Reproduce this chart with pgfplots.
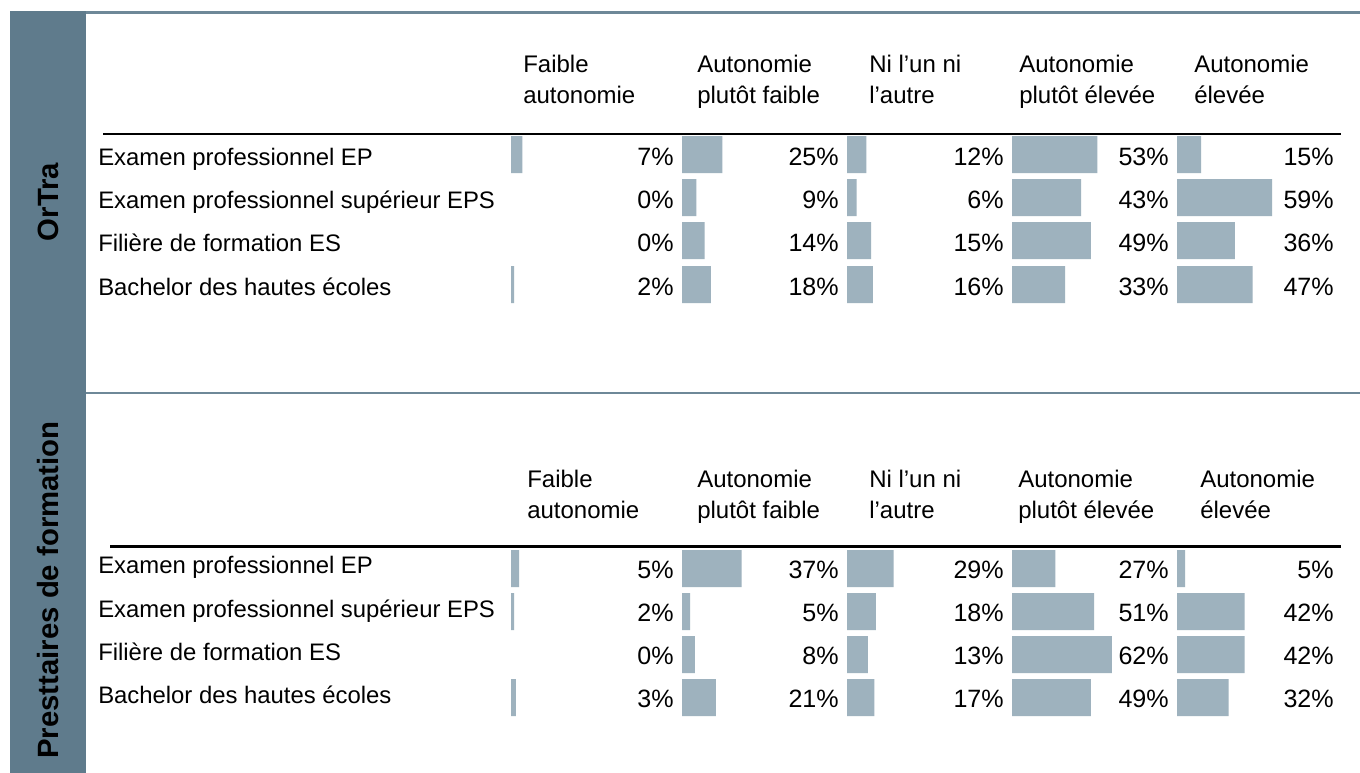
\documentclass[border=0pt]{standalone}
\usepackage{fontspec}
\setmainfont{Liberation Sans}
\usepackage{pgfplots}
\usepackage{pgfplotstable}
\pgfplotsset{compat=1.18}
\definecolor{bandc}{HTML}{5F7B8C}
\definecolor{barc}{HTML}{9EB2BE}
\definecolor{linec}{HTML}{6E8898}

% OrTra
\pgfplotstableread{
y c1 c2 c3 c4 c5
154.5 7 25 12 53 15
197.5 0 9 6 43 59
240.5 0 14 15 49 36
284.5 2 18 16 33 47
}\tA
% Prestataires de formation
\pgfplotstableread{
y c1 c2 c3 c4 c5
568.5 5 37 29 27 5
611.5 2 5 18 51 42
654.5 0 8 13 62 42
697.5 3 21 17 49 32
}\tB

\newcommand\pctfont{\fontsize{18.8}{22}\selectfont}
\newcommand\rowfont{\fontsize{17.9}{21}\selectfont}
\newcommand\headfont{\fontsize{18}{22}\selectfont}
\newcommand\bandfont{\fontsize{22}{26}\selectfont\bfseries}

\pgfplotsset{
  pctlabel/.style={draw=none, mark=none, point meta=explicit,
    nodes near coords={\pgfmathprintnumber[fixed,precision=0,assume math mode=true]{\pgfplotspointmeta}\%},
    every node near coord/.style={anchor=base east, inner sep=0pt, font=\pctfont, text=black, yshift=#1}},
  barplot/.style={xbar, bar width=37, draw=none, fill=barc,
    x filter/.expression={x<0.5 ? nan : x}},
}

\newcommand\colaxis[3]{%
\begin{axis}[at={(#1*0.75pt,0pt)}, anchor=north west, scale only axis,
  width=120.75pt, height=579.75pt, xmin=0, xmax=100, ymin=0, ymax=773,
  y dir=reverse, hide axis, clip=false, enlargelimits=false,
  unbounded coords=discard]
\addplot[barplot] table[x=#2,y=y]{\tA};
\addplot[barplot] table[x=#2,y=y]{\tB};
\addplot[pctlabel=-7.9pt] table[x expr=#3, y=y, meta=#2]{\tA};
\addplot[pctlabel=-7.4pt] table[x expr=#3, y=y, meta=#2]{\tB};
\end{axis}}

\begin{document}
\begin{tikzpicture}
\begin{axis}[at={(0pt,0pt)}, anchor=north west, scale only axis,
  width=1020pt, height=579.75pt, xmin=0, xmax=1360, ymin=0, ymax=773,
  y dir=reverse, hide axis, clip=false, enlargelimits=false]
\path[fill=white] (axis cs:0,0) rectangle (axis cs:1360,773);
% side band
\fill[bandc] (axis cs:10,11) rectangle (axis cs:86,773);
\fill[linec] (axis cs:86,11) rectangle (axis cs:1360,14);
\fill[linec] (axis cs:86,391.5) rectangle (axis cs:1360,394);
\node[rotate=90, font=\bandfont, inner sep=0pt] at (axis cs:48,202) {OrTra};
\node[rotate=90, font=\bandfont, inner sep=0pt] at (axis cs:48,590) {Presttaires de formation};
% header rules
\fill[black] (axis cs:103,132.5) rectangle (axis cs:1341,135);
\fill[black] (axis cs:110,545) rectangle (axis cs:1341,547.5);
% headers top
\begin{scope}[every node/.style={anchor=base west, inner sep=0pt, font=\headfont}]
\node at (axis cs:523,72) {Faible};
\node at (axis cs:523,103) {autonomie};
\node at (axis cs:697,72) {Autonomie};
\node at (axis cs:697,103) {plutôt faible};
\node at (axis cs:869,72) {Ni l’un ni};
\node at (axis cs:869,103) {l’autre};
\node at (axis cs:1019,72) {Autonomie};
\node at (axis cs:1019,103) {plutôt élevée};
\node at (axis cs:1194,72) {Autonomie};
\node at (axis cs:1194,103) {élevée};
% headers bottom
\node at (axis cs:527,487) {Faible};
\node at (axis cs:527,518) {autonomie};
\node at (axis cs:697,487) {Autonomie};
\node at (axis cs:697,518) {plutôt faible};
\node at (axis cs:869,487) {Ni l’un ni};
\node at (axis cs:869,518) {l’autre};
\node at (axis cs:1018,487) {Autonomie};
\node at (axis cs:1018,518) {plutôt élevée};
\node at (axis cs:1200,487) {Autonomie};
\node at (axis cs:1200,518) {élevée};
\end{scope}
% row labels
\begin{scope}[every node/.style={anchor=base west, inner sep=0pt, font=\rowfont}]
\node at (axis cs:98,165.5) {Examen professionnel EP};
\node at (axis cs:98,208.5) {Examen professionnel supérieur EPS};
\node at (axis cs:98,251.5) {Filière de formation ES};
\node at (axis cs:98,295.5) {Bachelor des hautes écoles};
\node at (axis cs:98,573.5) {Examen professionnel EP};
\node at (axis cs:98,617.5) {Examen professionnel supérieur EPS};
\node at (axis cs:98,660.5) {Filière de formation ES};
\node at (axis cs:98,703.5) {Bachelor des hautes écoles};
\end{scope}
\end{axis}
\colaxis{511}{c1}{101.2}
\colaxis{682}{c2}{97.5}
\colaxis{847}{c3}{97.5}
\colaxis{1012}{c4}{97.5}
\colaxis{1177}{c5}{97.5}
\end{tikzpicture}
\end{document}
